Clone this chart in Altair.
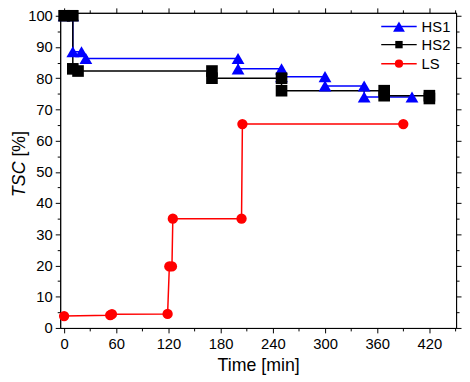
import altair as alt
import pandas as pd

# ---- data ----
series_names = ["HS1", "HS2", "LS"]
series_colors = ["#0000ff", "#000000", "#ff0000"]
series_shapes = ["triangle-up", "square", "circle"]
series_sizes = [169, 110, 100]

hs1_t = [0, 10, 10, 20, 25, 200, 200, 250, 250, 300, 300, 345, 345, 400]
hs1_v = [100, 100, 88.5, 88.5, 86.3, 86.3, 83, 83, 80.5, 80.5, 77.5, 77.5, 74, 74]

hs2_t = [0, 10, 10, 16, 170, 170, 250, 250, 368, 368, 420, 420]
hs2_v = [100, 100, 83, 82.3, 82.3, 80, 80, 76, 76, 74.4, 74.4, 73.5]

ls_t = [0, 53, 55, 119, 121, 124, 125, 204, 205, 390]
ls_v = [3.8, 4.1, 4.4, 4.5, 19.7, 19.7, 35, 35, 65.3, 65.3]

x_major = [0, 60, 120, 180, 240, 300, 360, 420]
x_minor = [30, 90, 150, 210, 270, 330, 390, 450]
y_major = [0, 10, 20, 30, 40, 50, 60, 70, 80, 90, 100]
y_minor = [5, 15, 25, 35, 45, 55, 65, 75, 85, 95]

rows = []
for name, ts, vs in [("HS1", hs1_t, hs1_v), ("HS2", hs2_t, hs2_v), ("LS", ls_t, ls_v)]:
    for i, (t, v) in enumerate(zip(ts, vs)):
        rows.append({"series": name, "t": t, "v": v, "idx": i})
df = pd.DataFrame(rows)

FONT = "Liberation Sans"
W, H = 402, 320

xscale = alt.Scale(domain=[-4.5, 450.7], nice=False, zero=False)
yscale = alt.Scale(domain=[0, 100.95], nice=False, zero=False)
cscale = alt.Scale(domain=series_names, range=series_colors)
sscale = alt.Scale(domain=series_names, range=series_shapes)
zscale = alt.Scale(domain=series_names, range=series_sizes)

axis_common = dict(
    domainColor="black", domainWidth=1, tickColor="black", tickWidth=1,
    grid=False, labelFont=FONT, labelFontSize=15, labelColor="black",
    titleFont=FONT, titleFontSize=18, titleFontWeight="normal", titleColor="black",
)

def ax(orient, values, size, labels=False, title=None, **kw):
    d = dict(axis_common)
    d.update(kw)
    return alt.Axis(orient=orient, values=values, tickSize=size, labels=labels,
                    title=title, **d)

base = alt.Chart(df)

lines = base.mark_line(strokeWidth=1.5).encode(
    x=alt.X("t:Q", scale=xscale,
            axis=ax("bottom", x_major, 5, labels=True, title="Time [min]",
                    labelPadding=4, titlePadding=5, format="d")),
    y=alt.Y("v:Q", scale=yscale,
            axis=ax("left", y_major, 5, labels=True, labelPadding=3, format="d")),
    color=alt.Color("series:N", scale=cscale, legend=None),
    detail="series:N",
    order="idx:Q",
)

points = base.mark_point(filled=True, opacity=1).encode(
    x=alt.X("t:Q", scale=xscale, axis=ax("bottom", x_minor, 3)),
    y=alt.Y("v:Q", scale=yscale, axis=ax("left", y_minor, 3)),
    color=alt.Color("series:N", scale=cscale, legend=None),
    shape=alt.Shape("series:N", scale=sscale, legend=None),
    size=alt.Size("series:N", scale=zscale, legend=None),
)

top_major = base.mark_point(opacity=0).encode(
    x=alt.X("t:Q", scale=xscale, axis=ax("top", x_major, 5)),
    y=alt.Y("v:Q", scale=yscale, axis=ax("right", y_major, 5)),
)
top_minor = base.mark_point(opacity=0).encode(
    x=alt.X("t:Q", scale=xscale, axis=ax("top", x_minor, 3)),
    y=alt.Y("v:Q", scale=yscale, axis=ax("right", y_minor, 3)),
)

one = pd.DataFrame({"k": [0]})
ytitle_a = alt.Chart(one).mark_text(
    text="TSC", angle=270, font=FONT, fontSize=18, fontStyle="italic",
    align="center", baseline="middle", color="black",
).encode(x=alt.value(-41), y=alt.value(169))
ytitle_b = alt.Chart(one).mark_text(
    text="[%]", angle=270, font=FONT, fontSize=18,
    align="center", baseline="middle", color="black",
).encode(x=alt.value(-41), y=alt.value(133))

# legend (drawn by hand, top-right inside the frame)
leg_rows_y = [14, 32.3, 51.7]
legend_layers = []
for name, col, shp, ly, sz in zip(series_names, series_colors, series_shapes,
                                  leg_rows_y, [144, 56, 70]):
    ldf = pd.DataFrame({"series": [name]})
    lc = alt.Chart(ldf)
    legend_layers.append(lc.mark_rule(color=col, strokeWidth=1.5).encode(
        x=alt.value(326), x2=alt.value(362), y=alt.value(ly)))
    legend_layers.append(lc.mark_point(filled=True, opacity=1, color=col, shape=shp,
                                       size=sz).encode(x=alt.value(344), y=alt.value(ly)))
    legend_layers.append(lc.mark_text(font=FONT, fontSize=15, align="left",
                                      baseline="middle", color="black").encode(
        text="series:N", x=alt.value(367), y=alt.value(ly)))

chart = alt.layer(
    lines, points, top_major, top_minor, ytitle_a, ytitle_b, *legend_layers
).resolve_axis(
    x="independent", y="independent"
).properties(
    width=W, height=H,
    autosize=alt.AutoSizeParams(type="none"),
    padding={"left": 53, "top": 2, "right": 6, "bottom": 52},
).configure_view(stroke=None)

chart.save("out.html", embed_options={"renderer": "svg", "actions": False})
